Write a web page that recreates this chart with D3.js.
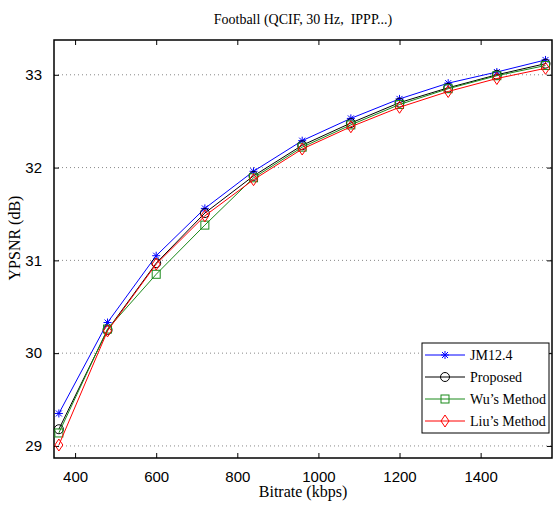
<!DOCTYPE html>
<html>
<head>
<meta charset="utf-8">
<script src="https://cdn.jsdelivr.net/npm/d3@7"></script>
<style>
	body { margin:0; background:#fff; }
	svg { display:block; }
</style>
</head>
<body>
<div id="svgContainer"></div>
<script>
// bitrate values (kbps)
var bitrates = [360, 480, 600, 720, 840, 960, 1080, 1200, 1320, 1440, 1560];
// YPSNR per method (dB)
var jm124   = [29.35, 30.33, 31.05, 31.56, 31.96, 32.29, 32.53, 32.74, 32.91, 33.03, 33.16];
var proposed= [29.18, 30.25, 30.97, 31.51, 31.91, 32.24, 32.48, 32.70, 32.86, 33.00, 33.12];
var wus     = [29.14, 30.26, 30.85, 31.38, 31.89, 32.22, 32.46, 32.68, 32.85, 32.99, 33.10];
var lius    = [29.01, 30.24, 30.96, 31.48, 31.87, 32.20, 32.44, 32.65, 32.82, 32.96, 33.07];
var seriesNames = ["JM12.4", "Proposed", "Wu\u2019s Method", "Liu\u2019s Method"];
var xTicks = [400, 600, 800, 1000, 1200, 1400];
var yTicks = [29, 30, 31, 32, 33];

var serif = "'Liberation Serif', 'Times New Roman', serif";
var sans = "'Liberation Sans', Arial, sans-serif";

var width = 554, height = 508;
var margin = {top:40, right:2, bottom:50, left:54}; // plot box 54..552, 40..458
var w = width - margin.left - margin.right;
var h = height - margin.top - margin.bottom;

var xScale = d3.scaleLinear().domain([348, 1576]).range([0, w]);
var yScale = d3.scaleLinear().domain([28.87, 33.375]).range([h, 0]);

var series = [
	{name:seriesNames[0], values:jm124,    color:"#0000ff", marker:"star"},
	{name:seriesNames[1], values:proposed, color:"#000000", marker:"circle"},
	{name:seriesNames[2], values:wus,      color:"#1a8a1a", marker:"square"},
	{name:seriesNames[3], values:lius,     color:"#ff0000", marker:"diamond"}
];

var svg = d3.select("#svgContainer").append("svg")
	.attr("width", width).attr("height", height);

var g = svg.append("g").attr("transform", "translate(" + margin.left + "," + margin.top + ")");

// horizontal dotted grid
g.append("g").selectAll("line")
	.data(yTicks)
	.enter().append("line")
	.attr("x1", 0).attr("x2", w)
	.attr("y1", function(d){ return yScale(d); })
	.attr("y2", function(d){ return yScale(d); })
	.attr("stroke", "#888").attr("stroke-width", 1)
	.attr("stroke-dasharray", "1,3");

// axes (inward ticks like matlab)
var fmt = d3.format("d");
var xAxis = d3.axisBottom(xScale).tickValues(xTicks).tickFormat(fmt).tickSizeInner(-5).tickSizeOuter(0).tickPadding(13);
var yAxis = d3.axisLeft(yScale).tickValues(yTicks).tickFormat(fmt).tickSizeInner(-5).tickSizeOuter(0).tickPadding(12);

g.append("g").attr("transform", "translate(0," + h + ")").call(xAxis)
	.call(function(s){ s.select(".domain").remove(); });
g.append("g").call(yAxis)
	.call(function(s){ s.select(".domain").remove(); });
g.append("g").call(d3.axisTop(xScale).tickValues(xTicks).tickSizeInner(-5).tickSizeOuter(0).tickFormat(""))
	.call(function(s){ s.select(".domain").remove(); });
g.append("g").attr("transform", "translate(" + w + ",0)")
	.call(d3.axisRight(yScale).tickValues(yTicks).tickSizeInner(-5).tickSizeOuter(0).tickFormat(""))
	.call(function(s){ s.select(".domain").remove(); });
g.selectAll(".tick line").attr("stroke", "#000");
g.selectAll(".tick text").attr("fill", "#000")
	.style("font-family", sans).style("font-size", "15px");

// box
g.append("rect").attr("width", w).attr("height", h)
	.attr("fill", "none").attr("stroke", "#000").attr("stroke-width", 1.5);

var lineFunction = d3.line()
	.x(function(d, i){ return xScale(bitrates[i]); })
	.y(function(d){ return yScale(d); });

function drawMarker(sel, type, color) {
	if (type === "star") {
		sel.append("path").attr("d", "M-4,0H4M0,-4V4M-3,-3L3,3M-3,3L3,-3")
			.attr("stroke", color).attr("stroke-width", 1).attr("fill", "none");
	} else if (type === "circle") {
		sel.append("circle").attr("r", 4.5)
			.attr("stroke", color).attr("stroke-width", 1).attr("fill", "none");
	} else if (type === "square") {
		sel.append("rect").attr("x", -4).attr("y", -4).attr("width", 8).attr("height", 8)
			.attr("stroke", color).attr("stroke-width", 1).attr("fill", "none");
	} else {
		sel.append("path").attr("d", "M0,-6L4,0L0,6L-4,0Z")
			.attr("stroke", color).attr("stroke-width", 1).attr("fill", "none");
	}
}

series.forEach(function(s){
	g.append("path").datum(s.values)
		.attr("d", lineFunction)
		.attr("fill", "none").attr("stroke", s.color).attr("stroke-width", 1);
	g.append("g").selectAll("g")
		.data(s.values)
		.enter().append("g")
		.attr("transform", function(d, i){ return "translate(" + xScale(bitrates[i]) + "," + yScale(d) + ")"; })
		.each(function(){ drawMarker(d3.select(this), s.marker, s.color); });
});

// legend
var lg = svg.append("g").attr("transform", "translate(422,343)");
lg.append("rect").attr("width", 127).attr("height", 90)
	.attr("fill", "#fff").attr("stroke", "#000").attr("stroke-width", 1);
series.forEach(function(s, i){
	var yy = 12 + i * 22;
	lg.append("line").attr("x1", 3).attr("x2", 43).attr("y1", yy).attr("y2", yy)
		.attr("stroke", s.color).attr("stroke-width", 1);
	var m = lg.append("g").attr("transform", "translate(23," + yy + ")");
	drawMarker(m, s.marker, s.color);
	lg.append("text").attr("x", 48).attr("y", yy + 5)
		.style("font-family", serif).style("font-size", "14px").text(s.name);
});

// title and axis labels
svg.append("text")
	.attr("x", margin.left + w / 2).attr("y", 24)
	.attr("text-anchor", "middle")
	.style("font-family", serif).style("font-size", "14px").style("white-space", "pre")
	.text("Football (QCIF, 30 Hz,  IPPP...)");

svg.append("text")
	.attr("x", margin.left + w / 2).attr("y", 497)
	.attr("text-anchor", "middle")
	.style("font-family", serif).style("font-size", "16px")
	.text("Bitrate (kbps)");

svg.append("text")
	.attr("transform", "translate(20,238) rotate(-90)")
	.attr("text-anchor", "middle")
	.style("font-family", serif).style("font-size", "16px")
	.text("YPSNR (dB)");
</script>
</body>
</html>
